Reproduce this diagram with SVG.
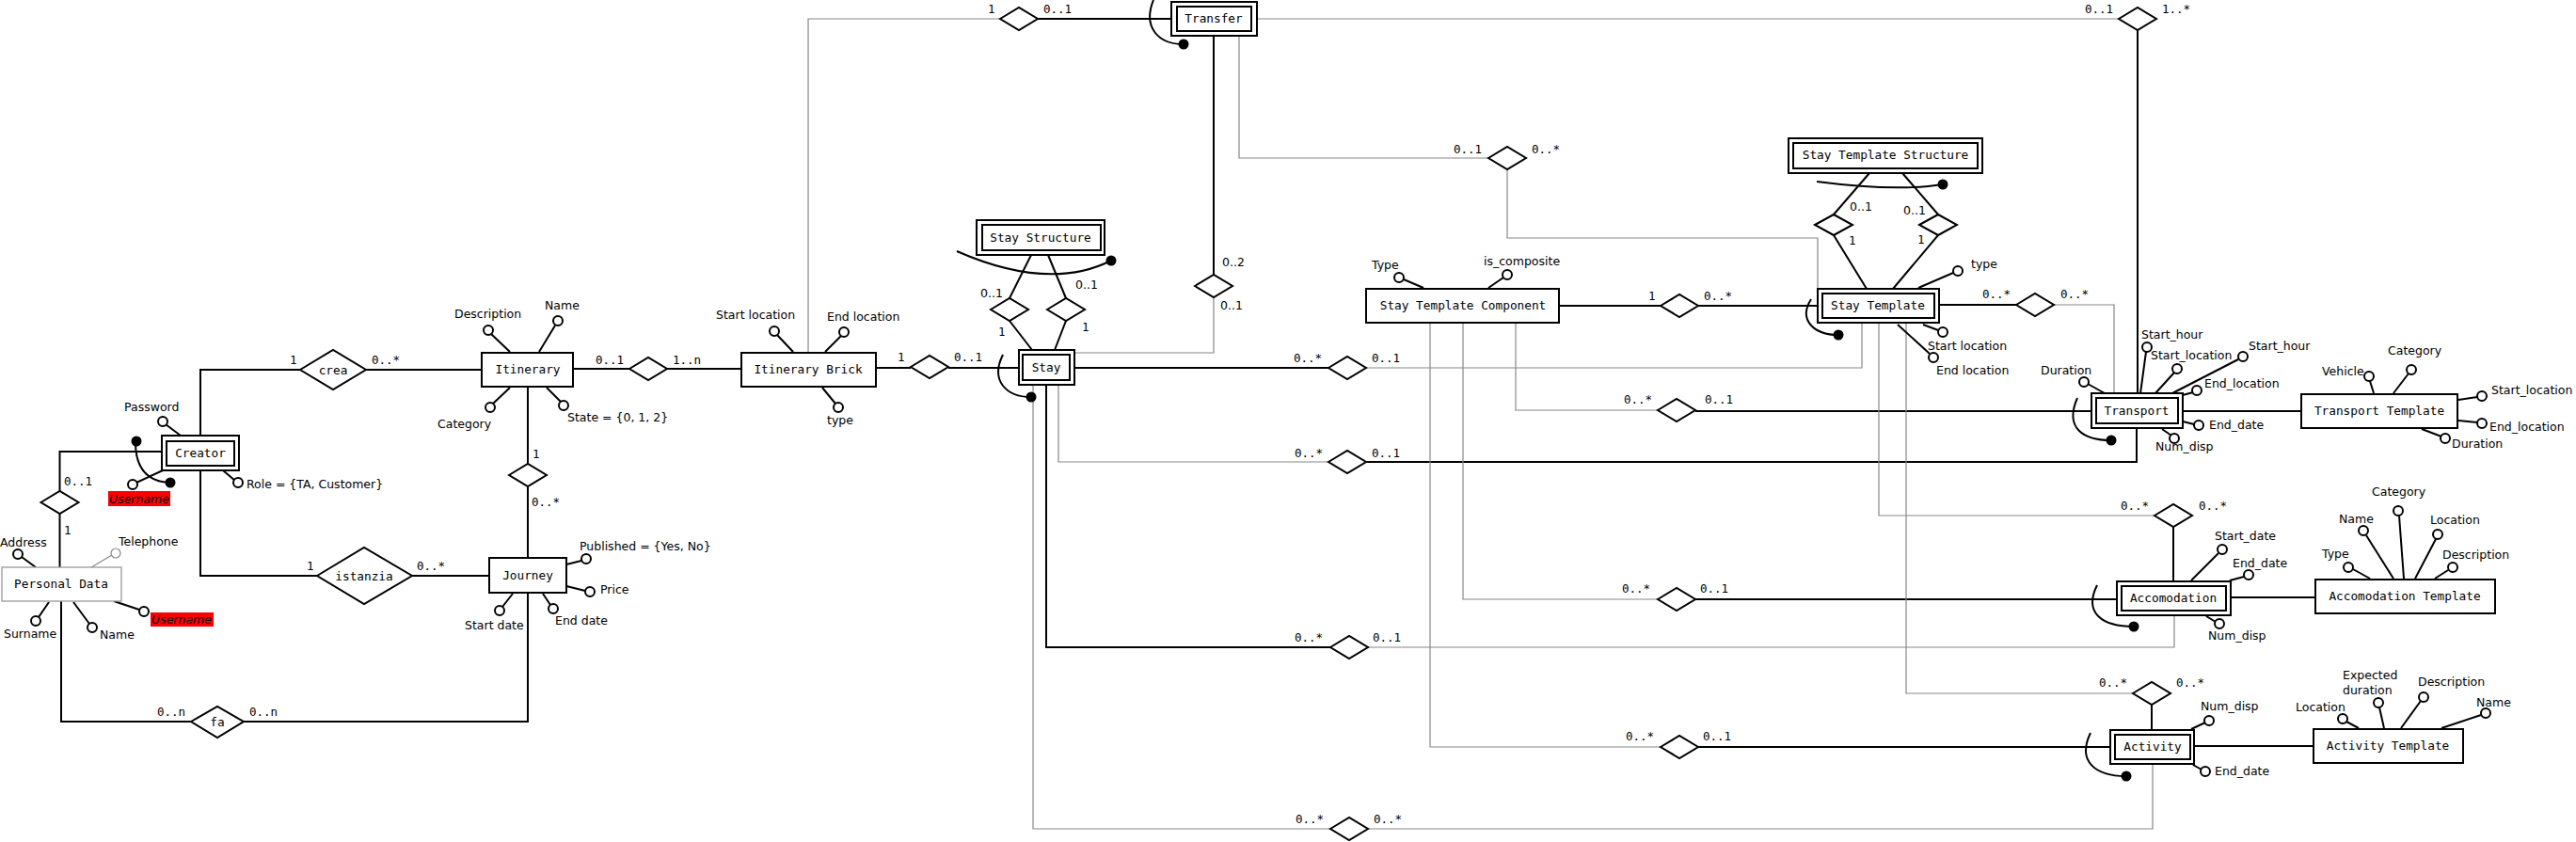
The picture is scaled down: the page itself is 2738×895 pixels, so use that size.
<svg xmlns="http://www.w3.org/2000/svg" width="2738" height="895" viewBox="0 0 2738 895">
<style>
.bg{fill:#fff}
.e{fill:#fff;stroke:#000;stroke-width:2}
.pd{fill:#fff;stroke:#999;stroke-width:1.3}
.d{fill:#fff;stroke:#000;stroke-width:2}
.k{fill:none;stroke:#000;stroke-width:2}
.g{fill:none;stroke:#888;stroke-width:1.2}
.c{fill:#fff;stroke:#000;stroke-width:2}
.cg{fill:#fff;stroke:#888;stroke-width:1.2}
.f{fill:#000}
.m{font-family:"DejaVu Sans Mono","Liberation Mono",monospace;font-size:12.75px;fill:#000;text-anchor:middle}
.n{font-family:"DejaVu Sans Mono","Liberation Mono",monospace;font-size:12.5px;fill:#000}
.a{font-family:"DejaVu Sans","Liberation Sans",sans-serif;font-size:12.5px;fill:#000}
.u{font-family:"DejaVu Sans","Liberation Sans",sans-serif;font-size:12.5px;font-style:italic;fill:#000}
.red{fill:#f00}
</style>
<rect class="bg" x="0" y="0" width="2738" height="895"/>

<g id="connectors">
<path class="k" d="M319,393 H213 V463"/>
<path class="k" d="M389,393 H512"/>
<path class="k" d="M213,500 V612 H337"/>
<path class="k" d="M438,612 H520"/>
<path class="k" d="M172,480 H63.5 V522"/>
<path class="k" d="M63.5,546 V603"/>
<path class="k" d="M65,639 V767 H203"/>
<path class="k" d="M259,767 H561 V630"/>
<path class="k" d="M561,411 V493"/>
<path class="k" d="M561,517 V593"/>
<path class="k" d="M609,392 H669"/>
<path class="k" d="M709,392 H788"/>
<path class="k" d="M931,391 H968"/>
<path class="k" d="M1008,391 H1083"/>
<path class="g" d="M859,375 V20 H1063"/>
<path class="k" d="M1103,20 H1245"/>
<path class="k" d="M1290,38 V292"/>
<path class="g" d="M1290,316 V375 H1142"/>
<path class="g" d="M1317,38 V168 H1582"/>
<path class="g" d="M1602,180 V253 H1932 V307"/>
<path class="g" d="M1336,20 H2252"/>
<path class="k" d="M2272,32 V418"/>
<path class="k" d="M1096,271 L1073,317"/>
<path class="k" d="M1073,341 L1097,372"/>
<path class="k" d="M1114,271 L1133,317"/>
<path class="k" d="M1133,341 L1121,372"/>
<path class="k" d="M1987,184 L1949,228"/>
<path class="k" d="M1949,250 L1984,307"/>
<path class="k" d="M2022,184 L2060,228"/>
<path class="k" d="M2060,250 L2012,307"/>
<path class="k" d="M1657,325 H1765"/>
<path class="k" d="M1805,325 H1932"/>
<path class="k" d="M2061,324 H2143"/>
<path class="g" d="M2183,324 H2247 V418"/>
<path class="k" d="M1142,391 H1412"/>
<path class="g" d="M1452,391 H1979 V343"/>
<path class="g" d="M1125,409 V491 H1412"/>
<path class="k" d="M1452,491 H2271 V455"/>
<path class="g" d="M1611,343 V436 H1762"/>
<path class="k" d="M1802,437 H2223"/>
<path class="k" d="M1112,409 V688 H1414"/>
<path class="g" d="M1454,688 H2311 V654"/>
<path class="g" d="M1555,343 V637 H1762"/>
<path class="k" d="M1802,637 H2250"/>
<path class="g" d="M1997,343 V548 H2290"/>
<path class="k" d="M2310,560 V618"/>
<path class="g" d="M1520,343 V794 H1765"/>
<path class="k" d="M1805,794 H2243"/>
<path class="g" d="M2026,343 V737 H2267"/>
<path class="k" d="M2287,749 V776"/>
<path class="g" d="M1098,409 V881 H1414"/>
<path class="g" d="M1454,881 H2288 V812"/>
<path class="k" d="M2320,437 H2446"/>
<path class="k" d="M2371,635 H2461"/>
<path class="k" d="M2332,793 H2459"/>
</g>

<g id="rel-crea"><polygon class="d" points="319,393 354,372 389,393 354,414"/><text class="m" x="354" y="398">crea</text>
<text class="n" x="308" y="387">1</text><text class="n" x="395" y="387">0..*</text></g>
<g id="rel-istanzia"><polygon class="d" points="337,612 387,582 438,612 387,642"/><text class="m" x="387" y="617">istanzia</text>
<text class="n" x="326" y="606">1</text><text class="n" x="443" y="606">0..*</text></g>
<g id="rel-fa"><polygon class="d" points="203,767 231,751 259,767 231,784"/><text class="m" x="231" y="772">fa</text>
<text class="n" x="167" y="761">0..n</text><text class="n" x="265" y="761">0..n</text></g>
<g id="rel-creator-pd"><polygon class="d" points="43.5,534 63.5,522 83.5,534 63.5,546"/>
<text class="n" x="68" y="516">0..1</text><text class="n" x="68" y="568">1</text></g>
<g id="rel-itin-journey"><polygon class="d" points="541,505 561,493 581,505 561,517"/>
<text class="n" x="566" y="487">1</text><text class="n" x="565" y="538">0..*</text></g>
<g id="rel-itin-brick"><polygon class="d" points="669,392 689,380 709,392 689,404"/>
<text class="n" x="633" y="387">0..1</text><text class="n" x="715" y="387">1..n</text></g>
<g id="rel-brick-stay"><polygon class="d" points="968,390 988,378 1008,390 988,402"/>
<text class="n" x="954" y="384">1</text><text class="n" x="1014" y="384">0..1</text></g>
<g id="rel-transfer-brick"><polygon class="d" points="1063,20 1083,8 1103,20 1083,32"/>
<text class="n" x="1050" y="14">1</text><text class="n" x="1109" y="14">0..1</text></g>
<g id="rel-transfer-stay"><polygon class="d" points="1270,304 1290,292 1310,304 1290,316"/>
<text class="a" x="1299" y="283">0..2</text><text class="a" x="1297" y="329">0..1</text></g>
<g id="rel-transfer-stc"><polygon class="d" points="1582,168 1602,156 1622,168 1602,180"/>
<text class="n" x="1545" y="163">0..1</text><text class="n" x="1628" y="163">0..*</text></g>
<g id="rel-transfer-transport"><polygon class="d" points="2252,20 2272,8 2292,20 2272,32"/>
<text class="n" x="2216" y="14">0..1</text><text class="n" x="2298" y="14">1..*</text></g>
<g id="rel-ss-left"><polygon class="d" points="1053,329 1073,317 1093,329 1073,341"/>
<text class="a" x="1042" y="316">0..1</text><text class="n" x="1061" y="357">1</text></g>
<g id="rel-ss-right"><polygon class="d" points="1113,329 1133,317 1153,329 1133,341"/>
<text class="a" x="1143" y="307">0..1</text><text class="n" x="1150" y="352">1</text></g>
<g id="rel-sts-left"><polygon class="d" points="1929,239 1949,228 1969,239 1949,250"/>
<text class="a" x="1966" y="224">0..1</text><text class="n" x="1965" y="260">1</text></g>
<g id="rel-sts-right"><polygon class="d" points="2040,239 2060,228 2080,239 2060,250"/>
<text class="a" x="2023" y="228">0..1</text><text class="n" x="2038" y="259">1</text></g>
<g id="rel-stc-st"><polygon class="d" points="1765,325 1785,313 1805,325 1785,337"/>
<text class="n" x="1752" y="319">1</text><text class="n" x="1811" y="319">0..*</text></g>
<g id="rel-st-transport"><polygon class="d" points="2143,324 2163,312 2183,324 2163,336"/>
<text class="n" x="2107" y="317">0..*</text><text class="n" x="2190" y="317">0..*</text></g>
<g id="rel-stay-st"><polygon class="d" points="1412,391 1432,379 1452,391 1432,403"/>
<text class="n" x="1375" y="385">0..*</text><text class="n" x="1458" y="385">0..1</text></g>
<g id="rel-stay-transport"><polygon class="d" points="1412,491 1432,479 1452,491 1432,503"/>
<text class="n" x="1376" y="486">0..*</text><text class="n" x="1458" y="486">0..1</text></g>
<g id="rel-stc-transport"><polygon class="d" points="1762,436 1782,424 1802,436 1782,448"/>
<text class="n" x="1726" y="429">0..*</text><text class="n" x="1812" y="429">0..1</text></g>
<g id="rel-stay-accom"><polygon class="d" points="1414,688 1434,676 1454,688 1434,700"/>
<text class="n" x="1376" y="682">0..*</text><text class="n" x="1459" y="682">0..1</text></g>
<g id="rel-stc-accom"><polygon class="d" points="1762,637 1782,625 1802,637 1782,649"/>
<text class="n" x="1724" y="630">0..*</text><text class="n" x="1807" y="630">0..1</text></g>
<g id="rel-st-accom"><polygon class="d" points="2290,548 2310,536 2330,548 2310,560"/>
<text class="n" x="2254" y="542">0..*</text><text class="n" x="2337" y="542">0..*</text></g>
<g id="rel-stc-activity"><polygon class="d" points="1765,794 1785,782 1805,794 1785,806"/>
<text class="n" x="1728" y="787">0..*</text><text class="n" x="1810" y="787">0..1</text></g>
<g id="rel-st-activity"><polygon class="d" points="2267,737 2287,725 2307,737 2287,749"/>
<text class="n" x="2231" y="730">0..*</text><text class="n" x="2313" y="730">0..*</text></g>
<g id="rel-stay-activity"><polygon class="d" points="1414,881 1434,869 1454,881 1434,893"/>
<text class="n" x="1377" y="875">0..*</text><text class="n" x="1460" y="875">0..*</text></g>

<g id="creator">
<line class="k" x1="192" y1="463" x2="176" y2="451"/><circle class="c" cx="173" cy="448" r="5"/><text class="a" x="132" y="437">Password</text>
<line class="k" x1="173" y1="500" x2="145" y2="513"/><circle class="c" cx="141" cy="515" r="5"/>
<rect class="red" x="115" y="522" width="66" height="16"/><text class="u" x="116" y="535">Username</text>
<line class="k" x1="237" y1="500" x2="250" y2="511"/><circle class="c" cx="253" cy="513" r="5"/><text class="a" x="262" y="519">Role = {TA, Customer}</text>
<rect class="e" x="172" y="463" width="82" height="37"/><rect class="e" x="177" y="469" width="72" height="26"/>
<text class="m" x="213" y="486">Creator</text>
<path class="k" d="M144,470 Q144,511 180,513"/><circle class="f" cx="145" cy="469" r="5.5"/><circle class="f" cx="181" cy="513" r="5.5"/>
</g>

<g id="personal-data">
<line class="k" x1="38" y1="603" x2="23" y2="592"/><circle class="c" cx="19" cy="589" r="5"/><text class="a" x="0" y="581">Address</text>
<line class="g" x1="97" y1="603" x2="119" y2="590"/><circle class="cg" cx="123" cy="588" r="5"/><text class="a" x="126" y="580">Telephone</text>
<line class="k" x1="52" y1="640" x2="41" y2="656"/><circle class="c" cx="38" cy="660" r="5"/><text class="a" x="4" y="678">Surname</text>
<line class="k" x1="78" y1="640" x2="95" y2="663"/><circle class="c" cx="98" cy="667" r="5"/><text class="a" x="106" y="679">Name</text>
<line class="k" x1="121" y1="639" x2="148" y2="648"/><circle class="c" cx="153" cy="650" r="5"/>
<rect class="red" x="160" y="651" width="67" height="15"/><text class="u" x="161" y="663">Username</text>
<rect class="pd" x="2" y="603" width="127" height="36"/><text class="m" x="65" y="625">Personal Data</text>
</g>

<g id="itinerary">
<line class="k" x1="542" y1="374" x2="522" y2="355"/><circle class="c" cx="519" cy="351" r="5"/><text class="a" x="483" y="338">Description</text>
<line class="k" x1="573" y1="374" x2="590" y2="346"/><circle class="c" cx="593" cy="341" r="5"/><text class="a" x="579" y="329">Name</text>
<line class="k" x1="542" y1="412" x2="524" y2="429"/><circle class="c" cx="521" cy="433" r="5"/><text class="a" x="465" y="455">Category</text>
<line class="k" x1="581" y1="412" x2="596" y2="427"/><circle class="c" cx="599" cy="431" r="5"/><text class="a" x="603" y="448">State = {0, 1, 2}</text>
<rect class="e" x="512" y="375" width="97" height="36"/><text class="m" x="561" y="397">Itinerary</text>
</g>

<g id="itinerary-brick">
<line class="k" x1="843" y1="374" x2="826" y2="356"/><circle class="c" cx="823" cy="352" r="5"/><text class="a" x="761" y="339">Start location</text>
<line class="k" x1="877" y1="374" x2="894" y2="357"/><circle class="c" cx="897" cy="353" r="5"/><text class="a" x="879" y="341">End location</text>
<line class="k" x1="874" y1="412" x2="888" y2="429"/><circle class="c" cx="891" cy="433" r="5"/><text class="a" x="879" y="451">type</text>
<rect class="e" x="788" y="375" width="143" height="36"/><text class="m" x="859" y="397">Itinerary Brick</text>
</g>

<g id="journey">
<line class="k" x1="602" y1="600" x2="618" y2="596"/><circle class="c" cx="623" cy="594" r="5"/><text class="a" x="616" y="585">Published = {Yes, No}</text>
<line class="k" x1="602" y1="623" x2="622" y2="628"/><circle class="c" cx="627" cy="629" r="5"/><text class="a" x="638" y="631">Price</text>
<line class="k" x1="545" y1="631" x2="534" y2="645"/><circle class="c" cx="531" cy="649" r="5"/><text class="a" x="494" y="669">Start date</text>
<line class="k" x1="577" y1="631" x2="585" y2="643"/><circle class="c" cx="588" cy="647" r="5"/><text class="a" x="590" y="664">End date</text>
<rect class="e" x="520" y="593" width="82" height="37"/><text class="m" x="561" y="616">Journey</text>
</g>

<g id="transfer">
<rect class="e" x="1245" y="2" width="91" height="36"/><rect class="e" x="1251" y="7" width="79" height="26"/>
<text class="m" x="1290" y="24">Transfer</text>
<path class="k" d="M1226,0 C1214,30 1232,47 1258,47"/><circle class="f" cx="1258" cy="47" r="5.5"/>
</g>

<g id="stay-structure">
<rect class="e" x="1038" y="234" width="136" height="37"/><rect class="e" x="1044" y="239" width="126" height="27"/>
<text class="m" x="1106" y="257">Stay Structure</text>
<path class="k" d="M1017,267 Q1115,310 1181,277"/><circle class="f" cx="1181" cy="277" r="5.5"/>
</g>

<g id="stay">
<rect class="e" x="1083" y="372" width="59" height="37"/><rect class="e" x="1087" y="377" width="50" height="27"/>
<text class="m" x="1112" y="395">Stay</text>
<path class="k" d="M1066,377 C1052,405 1070,422 1096,422"/><circle class="f" cx="1096" cy="422" r="5.5"/>
</g>

<g id="stay-template-component">
<line class="k" x1="1513" y1="306" x2="1492" y2="297"/><circle class="c" cx="1487" cy="295" r="5"/><text class="a" x="1458" y="286">Type</text>
<line class="k" x1="1582" y1="306" x2="1598" y2="295"/><circle class="c" cx="1602" cy="292" r="5"/><text class="a" x="1577" y="282">is_composite</text>
<rect class="e" x="1452" y="307" width="205" height="36"/><text class="m" x="1555" y="329">Stay Template Component</text>
</g>

<g id="stay-template-structure">
<rect class="e" x="1901" y="147" width="206" height="37"/><rect class="e" x="1906" y="152" width="196" height="27"/>
<text class="m" x="2004" y="169">Stay Template Structure</text>
<path class="k" d="M1931,193 Q2016,204 2065,196"/><circle class="f" cx="2065" cy="196" r="5.5"/>
</g>

<g id="stay-template">
<line class="k" x1="2039" y1="306" x2="2076" y2="290"/><circle class="c" cx="2081" cy="288" r="5"/><text class="a" x="2095" y="285">type</text>
<line class="k" x1="2044" y1="345" x2="2060" y2="351"/><circle class="c" cx="2065" cy="353" r="5"/><text class="a" x="2049" y="372">Start location</text>
<line class="k" x1="2017" y1="345" x2="2051" y2="376"/><circle class="c" cx="2055" cy="380" r="5"/><text class="a" x="2058" y="398">End location</text>
<rect class="e" x="1932" y="307" width="129" height="36"/><rect class="e" x="1937" y="312" width="119" height="26"/>
<text class="m" x="1996" y="329">Stay Template</text>
<path class="k" d="M1925,318 C1911,340 1928,356 1954,356"/><circle class="f" cx="1954" cy="356" r="5.5"/>
</g>

<g id="transport">
<line class="k" x1="2275" y1="418" x2="2281" y2="374"/><circle class="c" cx="2282" cy="369" r="5"/><text class="a" x="2276" y="360">Start_hour</text>
<line class="k" x1="2291" y1="418" x2="2311" y2="396"/><circle class="c" cx="2314" cy="392" r="5"/><text class="a" x="2286" y="382">Start_location</text>
<line class="k" x1="2309" y1="418" x2="2379" y2="382"/><circle class="c" cx="2384" cy="379" r="5"/><text class="a" x="2390" y="372">Start_hour</text>
<line class="k" x1="2320" y1="420" x2="2331" y2="417"/><circle class="c" cx="2335" cy="415" r="5"/><text class="a" x="2343" y="412">End_location</text>
<line class="k" x1="2320" y1="448" x2="2332" y2="451"/><circle class="c" cx="2337" cy="452" r="5"/><text class="a" x="2348" y="456">End_date</text>
<line class="k" x1="2298" y1="456" x2="2308" y2="463"/><circle class="c" cx="2311" cy="466" r="5"/><text class="a" x="2291" y="479">Num_disp</text>
<line class="k" x1="2237" y1="418" x2="2219" y2="408"/><circle class="c" cx="2215" cy="406" r="5"/><text class="a" x="2169" y="398">Duration</text>
<rect class="e" x="2223" y="418" width="97" height="37"/><rect class="e" x="2228" y="423" width="87" height="27"/>
<text class="m" x="2271" y="441">Transport</text>
<path class="k" d="M2208,423 C2194,455 2214,468 2244,468"/><circle class="f" cx="2244" cy="468" r="5.5"/>
</g>

<g id="transport-template">
<line class="k" x1="2523" y1="418" x2="2519" y2="405"/><circle class="c" cx="2518" cy="400" r="5"/><text class="a" x="2468" y="399">Vehicle</text>
<line class="k" x1="2544" y1="418" x2="2560" y2="397"/><circle class="c" cx="2563" cy="393" r="5"/><text class="a" x="2538" y="377">Category</text>
<line class="k" x1="2613" y1="425" x2="2633" y2="422"/><circle class="c" cx="2638" cy="421" r="5"/><text class="a" x="2648" y="419">Start_location</text>
<line class="k" x1="2613" y1="447" x2="2633" y2="449"/><circle class="c" cx="2638" cy="450" r="5"/><text class="a" x="2646" y="458">End_location</text>
<line class="k" x1="2574" y1="456" x2="2595" y2="464"/><circle class="c" cx="2599" cy="466" r="5"/><text class="a" x="2606" y="476">Duration</text>
<rect class="e" x="2446" y="419" width="166" height="36"/><text class="m" x="2529" y="441">Transport Template</text>
</g>

<g id="accomodation">
<line class="k" x1="2329" y1="617" x2="2358" y2="588"/><circle class="c" cx="2362" cy="584" r="5"/><text class="a" x="2354" y="574">Start_date</text>
<line class="k" x1="2370" y1="617" x2="2385" y2="613"/><circle class="c" cx="2390" cy="611" r="5"/><text class="a" x="2373" y="603">End_date</text>
<line class="k" x1="2345" y1="655" x2="2355" y2="661"/><circle class="c" cx="2359" cy="663" r="5"/><text class="a" x="2347" y="680">Num_disp</text>
<rect class="e" x="2250" y="618" width="121" height="36"/><rect class="e" x="2255" y="623" width="111" height="26"/>
<text class="m" x="2310" y="640">Accomodation</text>
<path class="k" d="M2229,622 C2214,652 2235,666 2268,666"/><circle class="f" cx="2268" cy="666" r="5.5"/>
</g>

<g id="accomodation-template">
<line class="k" x1="2519" y1="615" x2="2501" y2="605"/><circle class="c" cx="2496" cy="603" r="5"/><text class="a" x="2468" y="593">Type</text>
<line class="k" x1="2544" y1="615" x2="2515" y2="569"/><circle class="c" cx="2512" cy="564" r="5"/><text class="a" x="2486" y="556">Name</text>
<line class="k" x1="2555" y1="615" x2="2550" y2="548"/><circle class="c" cx="2549" cy="543" r="5"/><text class="a" x="2521" y="527">Category</text>
<line class="k" x1="2567" y1="615" x2="2589" y2="573"/><circle class="c" cx="2591" cy="568" r="5"/><text class="a" x="2583" y="557">Location</text>
<line class="k" x1="2588" y1="615" x2="2602" y2="606"/><circle class="c" cx="2607" cy="603" r="5"/><text class="a" x="2596" y="594">Description</text>
<rect class="e" x="2461" y="616" width="191" height="36"/><text class="m" x="2556" y="638">Accomodation Template</text>
</g>

<g id="activity">
<line class="k" x1="2329" y1="775" x2="2344" y2="768"/><circle class="c" cx="2348" cy="766" r="5"/><text class="a" x="2339" y="755">Num_disp</text>
<line class="k" x1="2331" y1="813" x2="2340" y2="818"/><circle class="c" cx="2344" cy="820" r="5"/><text class="a" x="2354" y="824">End_date</text>
<rect class="e" x="2243" y="776" width="89" height="36"/><rect class="e" x="2248" y="781" width="80" height="26"/>
<text class="m" x="2288" y="798">Activity</text>
<path class="k" d="M2222,779 C2207,810 2228,825 2260,825"/><circle class="f" cx="2260" cy="825" r="5.5"/>
</g>

<g id="activity-template">
<line class="k" x1="2507" y1="774" x2="2494" y2="767"/><circle class="c" cx="2490" cy="764" r="5"/><text class="a" x="2440" y="756">Location</text>
<line class="k" x1="2534" y1="774" x2="2529" y2="752"/><circle class="c" cx="2528" cy="747" r="5"/><text class="a" x="2490" y="722">Expected</text><text class="a" x="2490" y="738">duration</text>
<line class="k" x1="2552" y1="774" x2="2573" y2="745"/><circle class="c" cx="2576" cy="741" r="5"/><text class="a" x="2570" y="729">Description</text>
<line class="k" x1="2595" y1="774" x2="2637" y2="760"/><circle class="c" cx="2642" cy="758" r="5"/><text class="a" x="2632" y="751">Name</text>
<rect class="e" x="2459" y="775" width="159" height="36"/><text class="m" x="2538" y="797">Activity Template</text>
</g>
</svg>
